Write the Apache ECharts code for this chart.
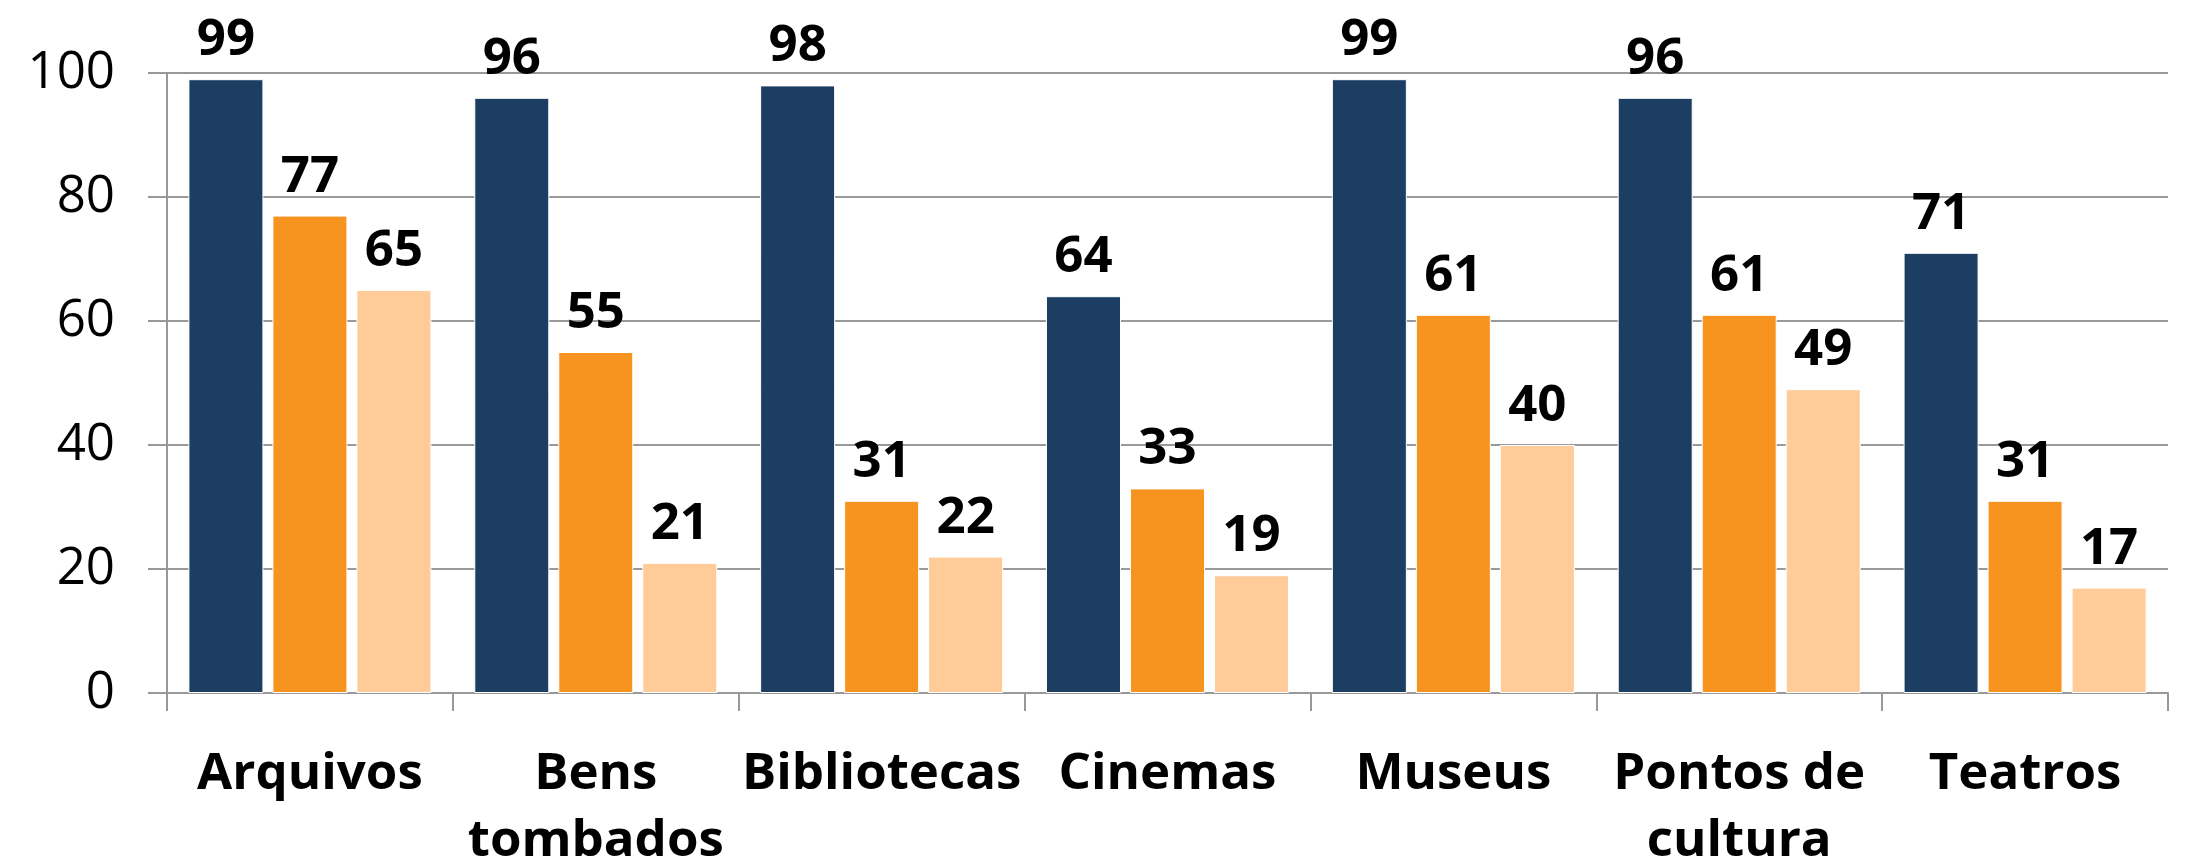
<!DOCTYPE html>
<html>
<head>
<meta charset="utf-8">
<script src="https://cdn.jsdelivr.net/npm/echarts@6/dist/echarts.min.js"></script>
<style>
html,body{margin:0;padding:0;background:#fff;}
#chart{width:2196px;height:865px;}
</style>
</head>
<body>
<div id="chart"></div>
<script>
var categories = ['Arquivos', 'Bens\ntombados', 'Bibliotecas', 'Cinemas', 'Museus', 'Pontos de\ncultura', 'Teatros'];
var seriesA = [99, 96, 98, 64, 99, 96, 71];
var seriesB = [77, 55, 31, 33, 61, 61, 31];
var seriesC = [65, 21, 22, 19, 40, 49, 17];
var yTicks = [0, 20, 40, 60, 80, 100];

var colors = ['#1B3E62', '#F7931F', '#FECB99'];
var chart = echarts.init(document.getElementById('chart'), null, {renderer: 'canvas'});

function mk(name, data, color) {
  return {
    name: name,
    type: 'bar',
    data: data,
    barWidth: 75,
    barGap: '12%',
    itemStyle: {color: color, borderColor: '#fff', borderWidth: 1},
    label: {
      show: true,
      position: 'top',
      distance: 13,
      color: '#000',
      fontFamily: 'Open Sans',
      fontWeight: 'bold',
      fontSize: 51
    }
  };
}

chart.setOption({
  animation: false,
  backgroundColor: '#fff',
  grid: {left: 167, right: 28, top: 73, bottom: 172, containLabel: false, outerBoundsMode: 'none'},
  xAxis: {
    type: 'category',
    data: categories,
    axisLine: {show: true, lineStyle: {color: '#999', width: 2}},
    axisTick: {show: true, length: 18, alignWithLabel: false, lineStyle: {color: '#999', width: 2}},
    axisLabel: {
      color: '#000',
      fontFamily: 'Open Sans',
      fontWeight: 'bold',
      fontSize: 51,
      lineHeight: 67,
      margin: 48,
      interval: 0
    }
  },
  yAxis: {
    type: 'value',
    min: yTicks[0],
    max: yTicks[yTicks.length - 1],
    interval: 20,
    axisLine: {show: true, lineStyle: {color: '#999', width: 2}},
    axisTick: {show: true, length: 19, lineStyle: {color: '#999', width: 2}},
    splitLine: {show: true, lineStyle: {color: '#999', width: 2}},
    axisLabel: {
      color: '#000',
      fontFamily: 'Open Sans',
      fontSize: 51,
      margin: 52
    }
  },
  series: [
    mk('A', seriesA, colors[0]),
    mk('B', seriesB, colors[1]),
    mk('C', seriesC, colors[2])
  ]
});
</script>
</body>
</html>
